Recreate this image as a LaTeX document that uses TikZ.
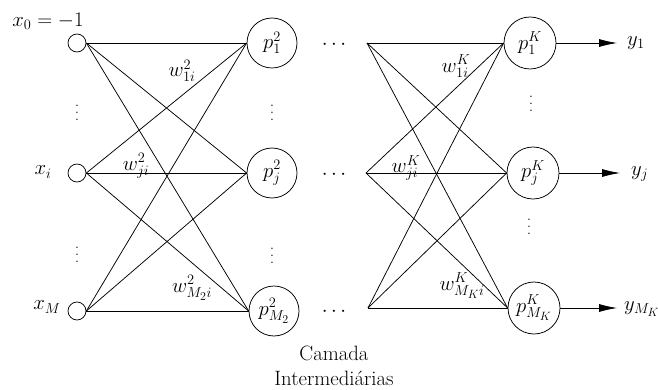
\documentclass[tikz,border=0pt]{standalone}
\usetikzlibrary{arrows.meta}

\tikzset{every picture/.style={line width=0.75pt}}
\tikzset{
  inputnode/.style={draw, circle, minimum size=18pt, inner sep=0pt},
  neuron/.style={draw, circle, minimum size=50pt, inner sep=0pt},
  outneuron/.style={neuron, minimum size=52pt},
  outarrow/.style={-{Latex[length=18pt,width=8pt]}},
  dotsnode/.style={inner sep=0pt, font=\Large},
}
\newcommand{\tallvdots}{\vbox{\baselineskip7pt\lineskiplimit0pt\hbox{.}\hbox{.}\hbox{.}}}

\begin{document}
\begin{tikzpicture}[x=1pt,y=1pt,yscale=-1,xscale=1,font=\huge]
\useasboundingbox (0,0) rectangle (658,390);

% Input nodes
\node [inputnode] (x0) at (77,43) {};
\node [inputnode] (xi) at (77,173) {};
\node [inputnode] (xM) at (77,311) {};
% Text Node
\node (x0lab) at (48,21) {$x_0=-1$};
\node (xilab) at (43,172) {$x_i$};
\node (xMlab) at (47,307) {$x_M$};
\node [dotsnode] (xdots1) at (77,113) {\tallvdots};
\node [dotsnode] (xdots2) at (77,255) {\tallvdots};

% Second layer
\node [neuron] (p1) at (272,43) {$p_1^2$};
\node [neuron] (pj) at (272,173) {$p_j^2$};
\node [neuron] (pM) at (274,311) {$p_{M_2}^2$};
\node [dotsnode] (pdots1) at (272,113) {\tallvdots};
\node [dotsnode] (pdots2) at (272,256) {\tallvdots};

%Straight Lines
\draw (x0.east) -- (p1.west);
\draw (x0.east) -- (pj.west);
\draw (x0.east) -- (pM.west);
\draw (xi.east) -- (p1.west);
\draw (xi.east) -- (pj.west);
\draw (xi.east) -- (pM.west);
\draw (xM.east) -- (p1.west);
\draw (xM.east) -- (pj.west);
\draw (xM.east) -- (pM.west);

% Text Node
\node (w1) at (182,71) {$w_{1i}^2$};
\node (wj) at (136,166) {$w_{ji}^2$};
\node (wM) at (192,288) {$w_{M_2i}^2$};

% Hidden layers in between
\node (hdots1) at (334,45) {$\cdots$};
\node (hdots2) at (334,175) {$\cdots$};
\node (hdots3) at (334,312) {$\cdots$};

% Last layer
\coordinate (q1) at (367,43);
\coordinate (qj) at (366,173);
\coordinate (qM) at (368,308);
\node [outneuron] (r1) at (530,43) {$p_1^K$};
\node [outneuron] (rj) at (533,173) {$p_j^K$};
\node [outneuron] (rM) at (534,308) {$p_{M_K}^K$};
\node [dotsnode] (rdots1) at (531,104) {\tallvdots};
\node [dotsnode] (rdots2) at (529,227) {\tallvdots};

%Straight Lines
\draw (q1) -- (r1.west);
\draw (q1) -- (rj.west);
\draw (q1) -- (rM.west);
\draw (qj) -- (r1.west);
\draw (qj) -- (rj.west);
\draw (qj) -- (rM.west);
\draw (qM) -- (r1.west);
\draw (qM) -- (rj.west);
\draw (qM) -- (rM.west);

% Text Node
\node (v1) at (456,66) {$w_{1i}^K$};
\node (vj) at (406,168) {$w_{ji}^K$};
\node (vM) at (462,286) {$w_{M_Ki}^K$};

% Outputs
\coordinate (e1) at (617,43);
\coordinate (ej) at (620,173);
\coordinate (eM) at (617,308);
\draw [outarrow] (r1.east) -- (e1);
\draw [outarrow] (rj.east) -- (ej);
\draw [outarrow] (rM.east) -- (eM);
\node [anchor=west, inner sep=0.75pt] (y1) at (626,43) {$y_1$};
\node [anchor=west, inner sep=0.75pt] (yj) at (630,174) {$y_j$};
\node [anchor=west, inner sep=0.75pt] (yM) at (623,309) {$y_{M_K}$};

% Caption
\node [align=center] (cap) at (334,366) {Camada\\Intermediárias};

\end{tikzpicture}
\end{document}
